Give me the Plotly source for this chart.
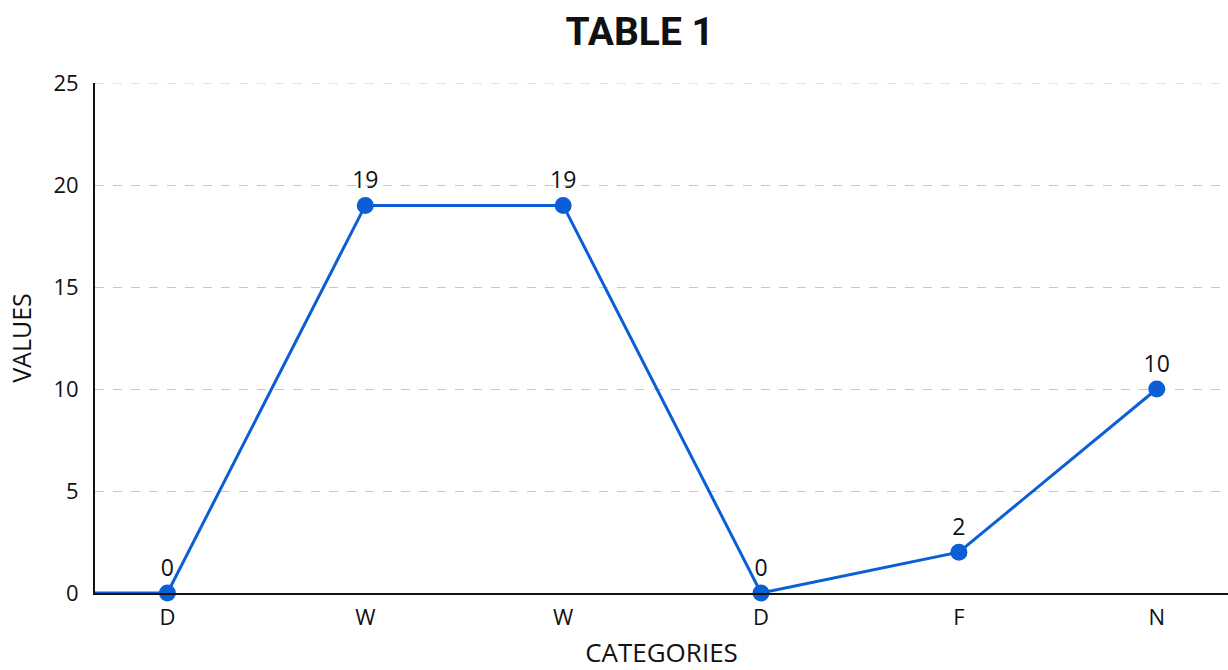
import plotly.graph_objects as go

categories = ["D", "W", "W", "D", "F", "N"]
values = [0, 19, 19, 0, 2, 10]
y_ticks = [0, 5, 10, 15, 20, 25]

positions = list(range(len(categories)))
x_min, x_max = -0.366, 5.36
line_color = "#0b5fd6"
grid_color = "#c8c8c8"
font_family = "Open Sans, Noto Sans, sans-serif"

fig = go.Figure()

# lead-in along the baseline from the axis to the first point
fig.add_trace(go.Scatter(
    x=[x_min, positions[0]], y=[values[0], values[0]],
    mode="lines", line=dict(color=line_color, width=3),
    hoverinfo="skip", showlegend=False, cliponaxis=False,
))

fig.add_trace(go.Scatter(
    x=positions, y=values,
    mode="lines+markers+text",
    line=dict(color=line_color, width=3),
    marker=dict(color=line_color, size=17),
    text=[str(v) for v in values],
    textposition="top center",
    textfont=dict(family=font_family, size=23, color="#111111"),
    showlegend=False, cliponaxis=False,
))

# gridline at the top tick, which sits on the edge of the plot area
fig.add_shape(
    type="line", xref="x domain", yref="y",
    x0=0, x1=1, y0=y_ticks[-1], y1=y_ticks[-1],
    line=dict(color=grid_color, width=1, dash="dash"), layer="below",
)

fig.update_layout(
    width=1228, height=670,
    margin=dict(l=95, r=0, t=83, b=77),
    paper_bgcolor="white", plot_bgcolor="white",
    font=dict(family=font_family, size=22, color="#111111"),
    title=dict(
        text="<b>TABLE 1</b>", x=0.521, xanchor="center",
        y=0.953, yanchor="middle",
        font=dict(family="Roboto, Liberation Sans, sans-serif", size=39, color="#111111"),
    ),
)

fig.update_xaxes(
    range=[x_min, x_max],
    tickmode="array", tickvals=positions, ticktext=categories,
    showgrid=False, zeroline=False,
    showline=True, linecolor="#111111", linewidth=2,
    ticks="", ticklen=0, ticklabelstandoff=4,
    tickfont=dict(size=22),
    title=dict(text="CATEGORIES", font=dict(size=26), standoff=16),
)

fig.update_yaxes(
    range=[0, y_ticks[-1]],
    tickmode="array", tickvals=y_ticks,
    showgrid=True, gridcolor=grid_color, griddash="dash", gridwidth=1,
    zeroline=False,
    showline=True, linecolor="#111111", linewidth=2,
    ticks="", tickfont=dict(size=22), ticklabelstandoff=10,
    title=dict(text="VALUES", font=dict(size=25), standoff=15),
)

fig.write_html("out.html")
